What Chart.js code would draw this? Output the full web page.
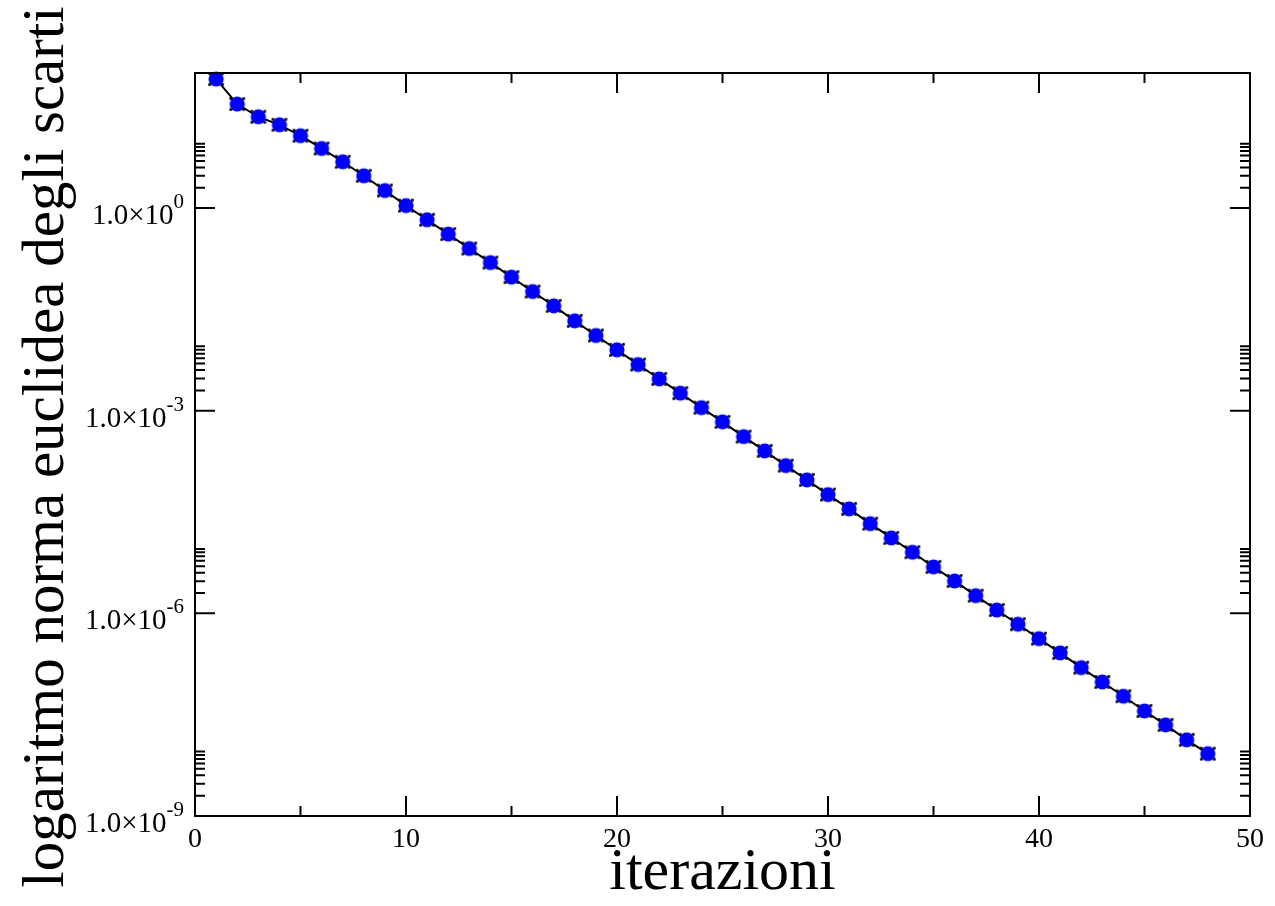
<!DOCTYPE html>
<html>
<head>
<meta charset="utf-8">
<script src="https://cdn.jsdelivr.net/npm/chart.js@4/dist/chart.umd.min.js"></script>
<style>
  html, body { margin: 0; padding: 0; background: #fff; }
  #wrap { width: 1275px; height: 906px; }
</style>
</head>
<body>
<div id="wrap"><canvas id="graph1"></canvas></div>
<script>
// iterations and residual norm
const iterations = [1, 2, 3, 4, 5, 6, 7, 8, 9, 10, 11, 12, 13, 14, 15, 16, 17, 18, 19, 20, 21, 22, 23, 24,
  25, 26, 27, 28, 29, 30, 31, 32, 33, 34, 35, 36, 37, 38, 39, 40, 41, 42, 43, 44, 45, 46, 47, 48];
const residuals = [81.4, 34.7, 22.5, 17.1, 11.8, 7.64, 4.85, 3.01, 1.82, 1.09, 0.671, 0.412,
  0.252, 0.156, 0.0951, 0.0582, 0.0357, 0.0214, 0.0130, 7.97e-3, 4.83e-3, 2.96e-3, 1.82e-3, 1.11e-3,
  6.84e-4, 4.14e-4, 2.54e-4, 1.54e-4, 9.46e-5, 5.73e-5, 3.52e-5, 2.13e-5, 1.31e-5, 8.04e-6, 4.87e-6, 3.02e-6,
  1.83e-6, 1.12e-6, 6.90e-7, 4.22e-7, 2.60e-7, 1.57e-7, 9.65e-8, 5.93e-8, 3.59e-8, 2.23e-8, 1.34e-8, 8.37e-9];

const xTicks = [0, 10, 20, 30, 40, 50];
const xMinorTicks = [5, 15, 25, 35, 45];
const yTickExponents = [0, -3, -6, -9];
const xTitle = 'iterazioni';
const yTitle = 'logaritmo norma euclidea degli scarti';

const FONT = '"Liberation Serif", "Times New Roman", serif';

// blue dot with the little black corner marks
function makeMarker() {
  const c = document.createElement('canvas');
  c.width = 22; c.height = 22;
  const g = c.getContext('2d');
  g.fillStyle = '#0000ff';
  g.beginPath();
  g.arc(11, 11, 7.6, 0, Math.PI * 2);
  g.fill();
  g.fillStyle = '#000';
  [[-6.5, -5.5], [6.5, -5.5], [-6.5, 5.5], [6.5, 5.5]].forEach(([dx, dy]) => {
    g.fillRect(11 + dx - 1.3, 11 + dy - 1.3, 2.6, 2.6);
  });
  return c;
}

const framePlugin = {
  id: 'frame',
  afterDraw(chart) {
    const ctx = chart.ctx;
    const a = chart.chartArea;
    const xs = chart.scales.x;
    const ys = chart.scales.y;
    ctx.save();
    ctx.strokeStyle = '#000';
    ctx.lineWidth = 2;
    ctx.strokeRect(a.left, a.top, a.right - a.left, a.bottom - a.top);

    ctx.beginPath();
    // x ticks, inside, bottom and top
    xTicks.forEach(v => {
      const px = xs.getPixelForValue(v);
      ctx.moveTo(px, a.bottom); ctx.lineTo(px, a.bottom - 20);
      ctx.moveTo(px, a.top); ctx.lineTo(px, a.top + 20);
    });
    xMinorTicks.forEach(v => {
      const px = xs.getPixelForValue(v);
      ctx.moveTo(px, a.bottom); ctx.lineTo(px, a.bottom - 10);
      ctx.moveTo(px, a.top); ctx.lineTo(px, a.top + 10);
    });
    // y ticks, inside, left and right
    yTickExponents.forEach(e => {
      const py = ys.getPixelForValue(Math.pow(10, e));
      ctx.moveTo(a.left, py); ctx.lineTo(a.left + 20, py);
      ctx.moveTo(a.right, py); ctx.lineTo(a.right - 20, py);
      for (let m = 2; m <= 9; m++) {
        const pm = ys.getPixelForValue(m * Math.pow(10, e));
        ctx.moveTo(a.left, pm); ctx.lineTo(a.left + 10, pm);
        ctx.moveTo(a.right, pm); ctx.lineTo(a.right - 10, pm);
      }
    });
    ctx.stroke();

    // tick labels
    ctx.fillStyle = '#000';
    ctx.font = '28px ' + FONT;
    ctx.textAlign = 'center';
    ctx.textBaseline = 'alphabetic';
    xTicks.forEach(v => {
      ctx.fillText(String(v), xs.getPixelForValue(v), a.bottom + 31);
    });
    yTickExponents.forEach(e => {
      const py = ys.getPixelForValue(Math.pow(10, e));
      const sup = String(e);
      ctx.font = '21px ' + FONT;
      ctx.textAlign = 'right';
      ctx.fillText(sup, 184, py);
      const w = ctx.measureText(sup).width;
      ctx.font = '29px ' + FONT;
      ctx.fillText('1.0\u00d710', 184 - w, py + 16);
    });

    // axis titles
    ctx.font = '60px ' + FONT;
    ctx.textAlign = 'center';
    ctx.fillText(xTitle, (a.left + a.right) / 2, 889);
    ctx.translate(63, 447);
    ctx.rotate(-Math.PI / 2);
    ctx.font = '59px ' + FONT;
    ctx.fillText(yTitle, 0, 0);
    ctx.restore();
  }
};

new Chart(document.getElementById('graph1'), {
  type: 'line',
  data: {
    datasets: [{
      data: iterations.map((it, i) => ({ x: it, y: residuals[i] })),
      borderColor: '#000',
      borderWidth: 2,
      tension: 0,
      pointStyle: makeMarker(),
      pointRadius: 11,
      clip: false
    }]
  },
  options: {
    responsive: true,
    maintainAspectRatio: false,
    animation: false,
    layout: { padding: { left: 195, right: 25, top: 73, bottom: 90 } },
    scales: {
      x: { type: 'linear', min: 0, max: 50, display: false },
      y: { type: 'logarithmic', min: 1e-9, max: 1e2, display: false }
    },
    plugins: {
      legend: { display: false },
      tooltip: { enabled: false }
    }
  },
  plugins: [framePlugin]
});
</script>
</body>
</html>
